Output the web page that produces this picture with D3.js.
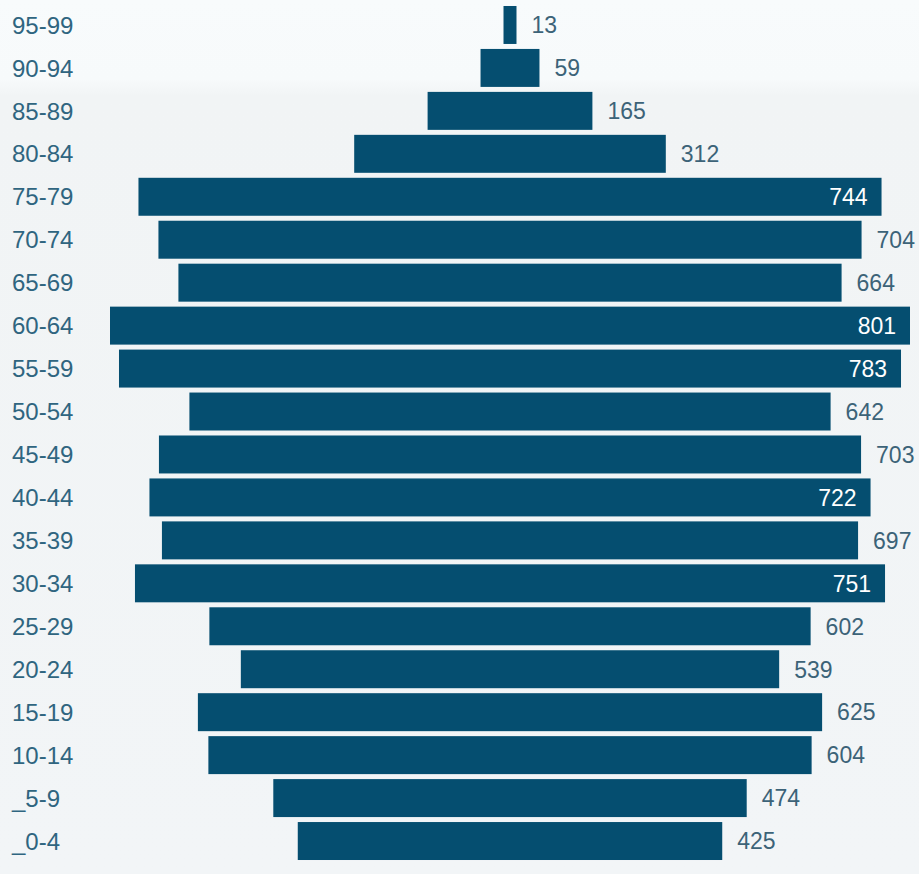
<!DOCTYPE html>
<html>
<head>
<meta charset="utf-8">
<script src="https://cdn.jsdelivr.net/npm/d3@7"></script>
<style>
  html, body { margin: 0; padding: 0; background: #f3f6f8; }
  svg { display: block; }
</style>
</head>
<body>
<svg id="chart" width="919" height="874"></svg>
<script>
const categories = ["95-99","90-94","85-89","80-84","75-79","70-74","65-69","60-64","55-59","50-54","45-49","40-44","35-39","30-34","25-29","20-24","15-19","10-14","_5-9","_0-4"];
const values = [13, 59, 165, 312, 744, 704, 664, 801, 783, 642, 703, 722, 697, 751, 602, 539, 625, 604, 474, 425];
const insideThreshold = 710;

const W = 919, H = 874;
const svg = d3.select("#chart");

// background
const defs = svg.append("defs");
const grad = defs.append("linearGradient").attr("id", "bg").attr("x1", 0).attr("y1", 0).attr("x2", 0).attr("y2", 1);
grad.append("stop").attr("offset", "0%").attr("stop-color", "#f8fbfc");
grad.append("stop").attr("offset", "9%").attr("stop-color", "#f7fafb");
grad.append("stop").attr("offset", "11%").attr("stop-color", "#f1f4f5");
grad.append("stop").attr("offset", "100%").attr("stop-color", "#f2f5f7");
svg.append("rect").attr("width", W).attr("height", H).attr("fill", "url(#bg)");

const data = categories.map((c, i) => ({ cat: c, val: values[i] }));

const cx = 510;
const x = d3.scaleLinear().domain([0, 801]).range([0, 800]);
const y = d3.scaleBand().domain(categories).range([3.5, 862.5]).paddingInner(0.116).paddingOuter(0.058);

svg.append("g").selectAll("rect").data(data).join("rect")
  .attr("x", d => cx - x(d.val) / 2)
  .attr("y", d => y(d.cat))
  .attr("width", d => x(d.val))
  .attr("height", y.bandwidth())
  .attr("fill", "#054e70");

// category labels
svg.append("g").selectAll("text").data(data).join("text")
  .attr("x", 12)
  .attr("y", d => y(d.cat) + y.bandwidth() / 2)
  .attr("dy", "0.36em")
  .attr("font-family", "'Liberation Sans', Arial, sans-serif")
  .attr("font-size", 24)
  .attr("fill", "#2f6580")
  .text(d => d.cat);

// value labels
svg.append("g").selectAll("text").data(data).join("text")
  .attr("x", d => d.val > insideThreshold ? cx + x(d.val) / 2 - 14 : cx + x(d.val) / 2 + 15)
  .attr("y", d => y(d.cat) + y.bandwidth() / 2)
  .attr("dy", "0.36em")
  .attr("text-anchor", d => d.val > insideThreshold ? "end" : "start")
  .attr("font-family", "'Liberation Sans', Arial, sans-serif")
  .attr("font-size", 23)
  .attr("fill", d => d.val > insideThreshold ? "#ffffff" : "#3c6378")
  .text(d => d.val);
</script>
</body>
</html>
